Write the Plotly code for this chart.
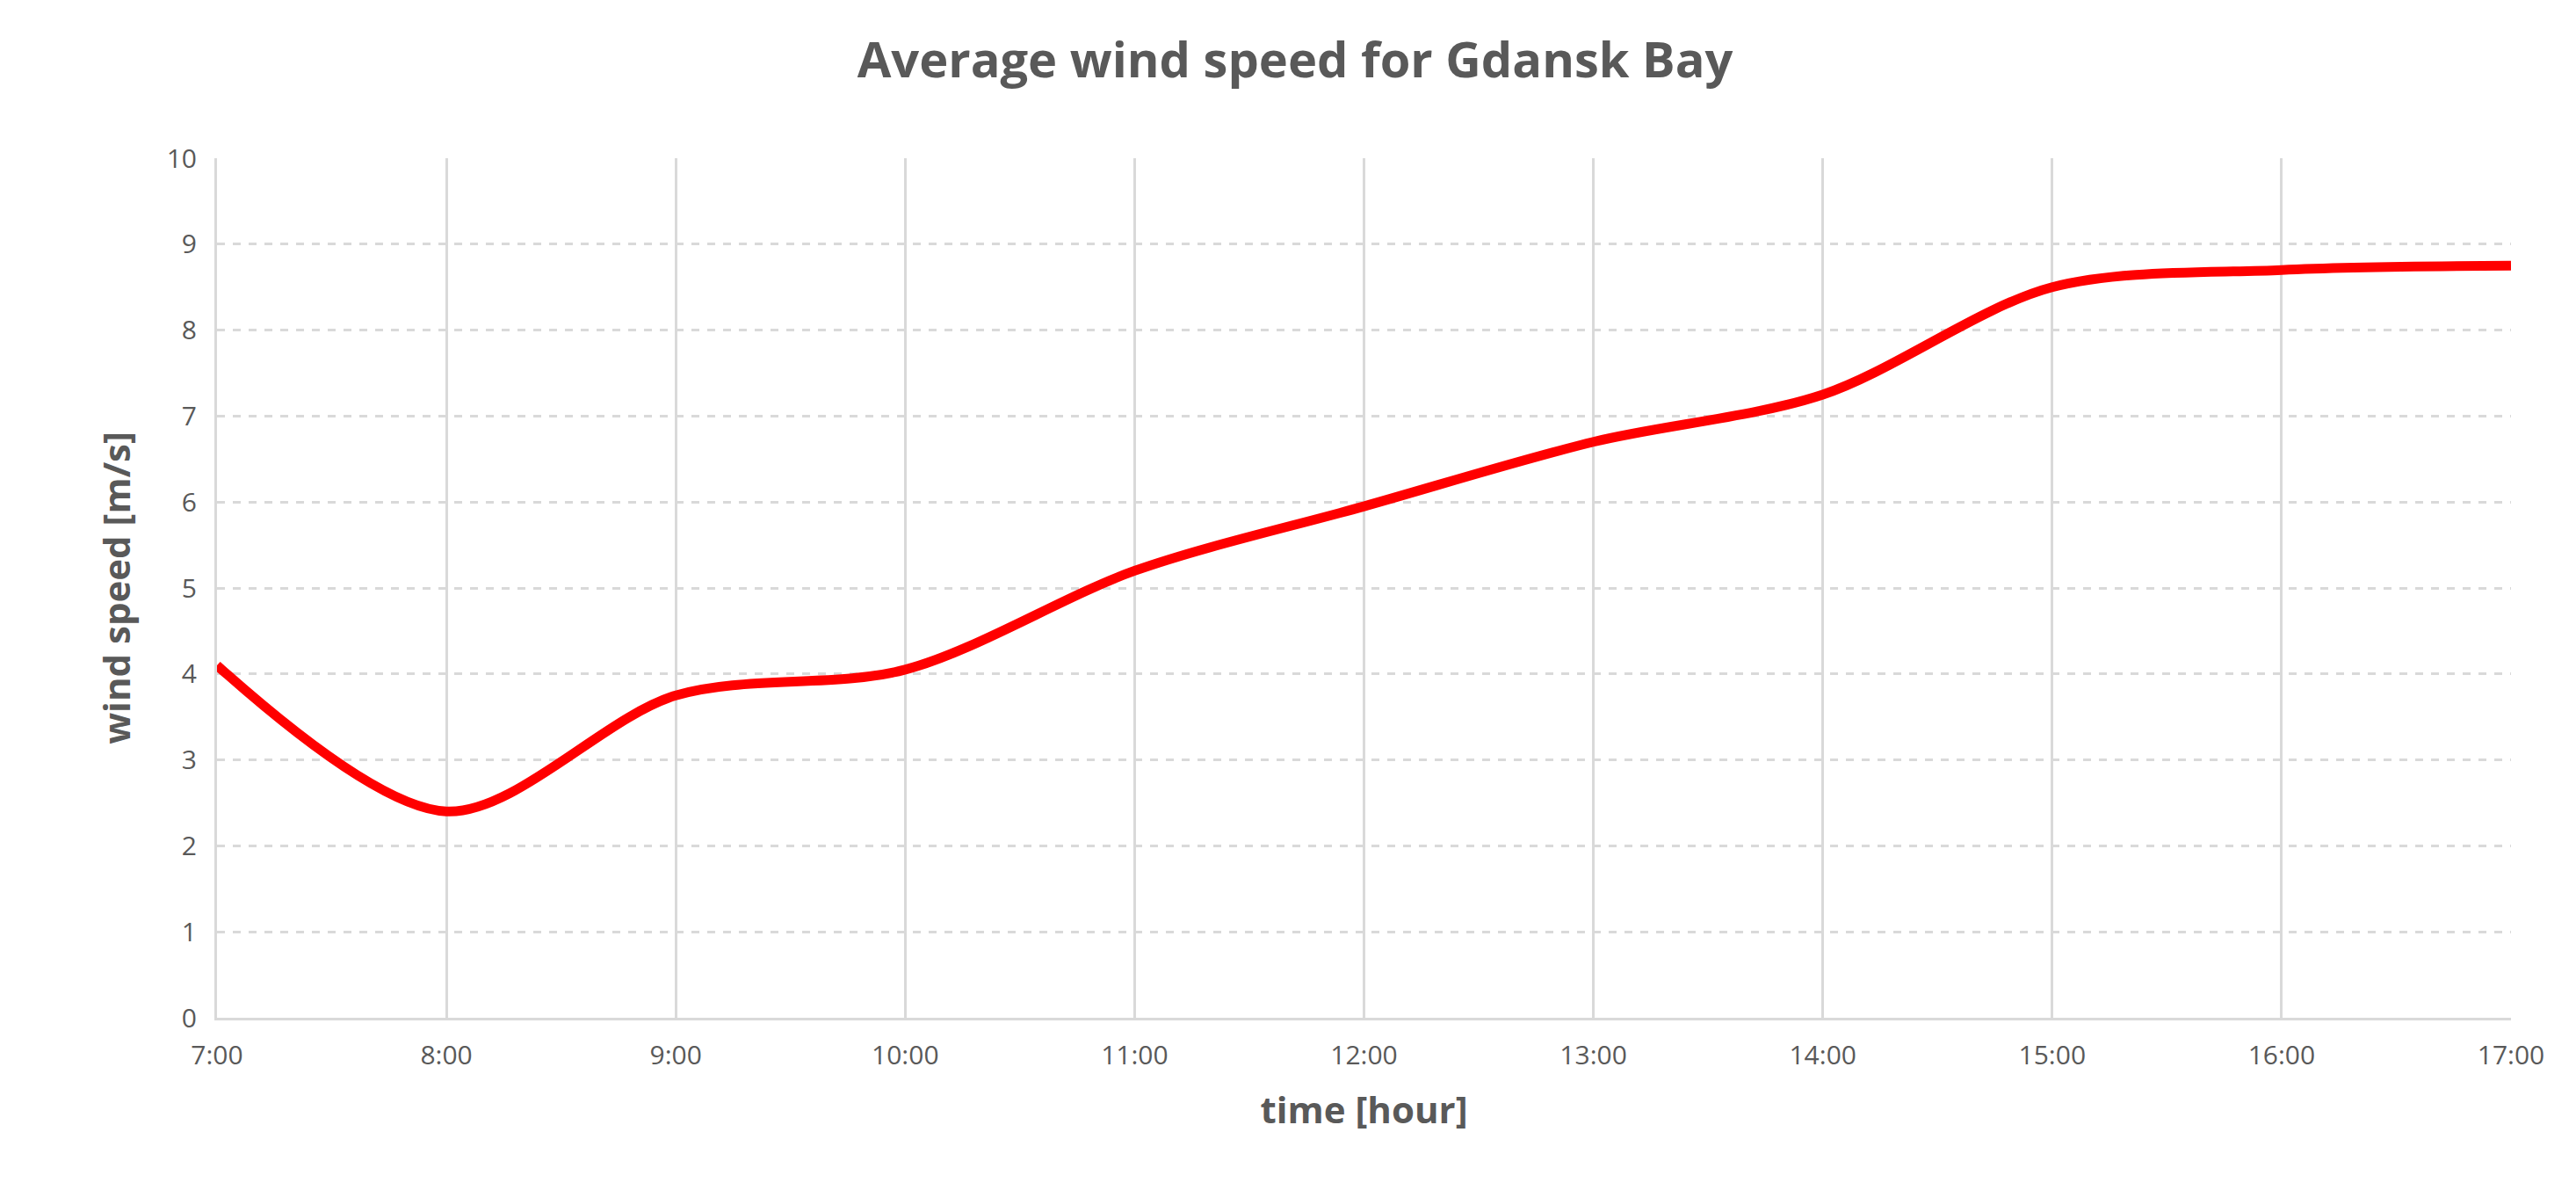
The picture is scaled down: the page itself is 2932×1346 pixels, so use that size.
import plotly.graph_objects as go

hours = [7, 8, 9, 10, 11, 12, 13, 14, 15, 16, 17]
hour_labels = ["7:00", "8:00", "9:00", "10:00", "11:00", "12:00", "13:00", "14:00", "15:00", "16:00", "17:00"]
wind_speed = [4.1, 2.4, 3.75, 4.05, 5.2, 5.95, 6.7, 7.25, 8.5, 8.7, 8.75]

fig = go.Figure(go.Scatter(x=hours, y=wind_speed, mode="lines",
                           line=dict(color="#ff0000", width=11, shape="spline", smoothing=0.9)))
fig.update_layout(
    width=2932, height=1346, plot_bgcolor="white", paper_bgcolor="white",
    margin=dict(l=239, r=82, t=172, b=196),
    font=dict(family="Open Sans", color="#595959", size=30),
    title=dict(text="<b>Average wind speed for Gdansk Bay</b>", x=0.5, xanchor="center",
               y=0.955, yanchor="middle", font=dict(size=56, color="#595959")),
    showlegend=False,
)
fig.update_xaxes(range=[7, 17], tickvals=hours, ticktext=hour_labels, showgrid=True,
                 gridcolor="#d9d9d9", gridwidth=3, zeroline=False, showline=True,
                 linecolor="#d9d9d9", linewidth=3, ticks="", ticklabelstandoff=14,
                 tickfont=dict(size=30, color="#595959"),
                 title=dict(text="<b>time [hour]</b>", font=dict(size=42, color="#595959"), standoff=30))
fig.update_yaxes(range=[0, 10], dtick=1, showgrid=True, gridcolor="#d9d9d9", gridwidth=3,
                 griddash="dash", zeroline=False, showline=True, linecolor="#d9d9d9", linewidth=3,
                 ticks="", ticklabelstandoff=14, tickfont=dict(size=30, color="#595959"),
                 title=dict(text="<b>wind speed [m/s]</b>", font=dict(size=42, color="#595959"), standoff=28))
fig.write_html("out.html")
